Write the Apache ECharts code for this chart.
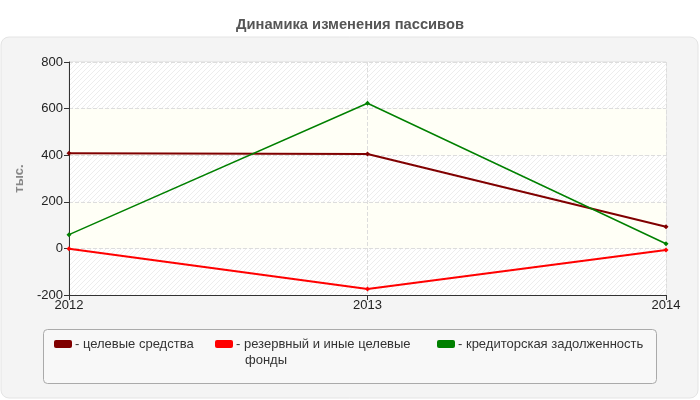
<!DOCTYPE html>
<html>
<head>
<meta charset="utf-8">
<script src="https://cdn.jsdelivr.net/npm/echarts@6/dist/echarts.min.js"></script>
<style>
  html, body { margin: 0; padding: 0; background: #fff; }
  #chart { width: 700px; height: 400px; }
</style>
</head>
<body>
<div id="chart"></div>
<script>
var years = ['2012', '2013', '2014'];
var celevye = [408, 405, 93];          // целевые средства
var rezervnye = [-2, -174, -7];        // резервный и иные целевые фонды
var kreditory = [59, 623, 20];         // кредиторская задолженность
var names = ['целевые средства', 'резервный и иные целевые фонды', 'кредиторская задолженность'];
var colors = ['#800000', '#ff0000', '#008000'];

// штриховка для полос сетки
var c = document.createElement('canvas');
c.width = 5; c.height = 5;
var g = c.getContext('2d');
g.fillStyle = '#ffffff';
g.fillRect(0, 0, 5, 5);
g.strokeStyle = '#ededed';
g.lineWidth = 1;
g.beginPath();
g.moveTo(0, 5); g.lineTo(5, 0);
g.moveTo(-2.5, 2.5); g.lineTo(2.5, -2.5);
g.moveTo(2.5, 7.5); g.lineTo(7.5, 2.5);
g.stroke();
var hatch = { image: c, repeat: 'repeat' };

var myChart = echarts.init(document.getElementById('chart'));

function makeLegend(i, left) {
  return {
    left: left, top: 335,
    padding: 0,
    data: [names[i]],
    icon: 'roundRect',
    itemWidth: 18, itemHeight: 8,
    itemGap: 0,
    textStyle: { fontFamily: 'Liberation Sans', fontSize: 13, color: '#333',
                 lineHeight: 18, padding: [0, 0, 0, -2] },
    formatter: function (n) {
      if (n === names[1]) return '- резервный и иные целевые';
      return '- ' + n;
    }
  };
}

function makeSeries(i, data, w) {
  return {
    name: names[i],
    type: 'line',
    data: data,
    symbol: 'diamond',
    symbolSize: 5,
    lineStyle: { color: colors[i], width: w },
    itemStyle: { color: colors[i] },
    animation: false
  };
}

myChart.setOption({
  backgroundColor: '#fff',
  animation: false,
  title: {
    text: 'Динамика изменения пассивов',
    left: 'center', top: 12,
    textStyle: { fontFamily: 'Liberation Sans', fontSize: 14.7, fontWeight: 'bold', color: '#555' }
  },
  graphic: [
    { type: 'rect', z: -10, shape: { x: 1, y: 37, width: 697, height: 361, r: 8 },
      style: { fill: '#f4f4f4', stroke: '#e4e4e4', lineWidth: 1 } },
    { type: 'rect', z: -5, shape: { x: 43.5, y: 329.5, width: 613, height: 54, r: 4 },
      style: { fill: '#f8f8f8', stroke: '#aaaaaa', lineWidth: 1 } },
    { type: 'text', left: 245, top: 354,
      style: { text: 'фонды', fontFamily: 'Liberation Sans', fontSize: 13, fill: '#333' } }
  ],
  legend: [makeLegend(0, 54), makeLegend(1, 215), makeLegend(2, 437)],
  grid: { left: 69, right: 34, top: 62, bottom: 105, show: true,
          borderColor: '#dddddd', borderWidth: 1, backgroundColor: 'transparent' },
  xAxis: {
    type: 'category',
    data: years,
    boundaryGap: false,
    axisLine: { onZero: false, lineStyle: { color: '#333' } },
    axisTick: { show: true, length: 5, lineStyle: { color: '#333' } },
    axisLabel: { fontFamily: 'Liberation Sans', fontSize: 13, color: '#222', margin: 4,
                 alignMinLabel: 'center', alignMaxLabel: 'center' },
    splitLine: { show: true, lineStyle: { color: '#dddddd', type: 'dashed' } }
  },
  yAxis: {
    type: 'value',
    min: -200, max: 800, interval: 200,
    name: 'тыс.',
    nameLocation: 'middle',
    nameRotate: 90,
    nameGap: 40,
    nameTextStyle: { fontFamily: 'Liberation Sans', fontSize: 13, fontWeight: 'bold', color: '#888' },
    axisLine: { show: true, lineStyle: { color: '#333' } },
    axisTick: { show: true, length: 5, lineStyle: { color: '#333' } },
    axisLabel: { fontFamily: 'Liberation Sans', fontSize: 13, color: '#222', margin: 6 },
    splitLine: { show: true, lineStyle: { color: '#dddddd', type: 'dashed' } },
    splitArea: { show: true, areaStyle: { color: [hatch, '#fffff6'] } }
  },
  series: [
    makeSeries(0, celevye, 2),
    makeSeries(1, rezervnye, 2),
    makeSeries(2, kreditory, 1.5)
  ]
});
</script>
</body>
</html>
